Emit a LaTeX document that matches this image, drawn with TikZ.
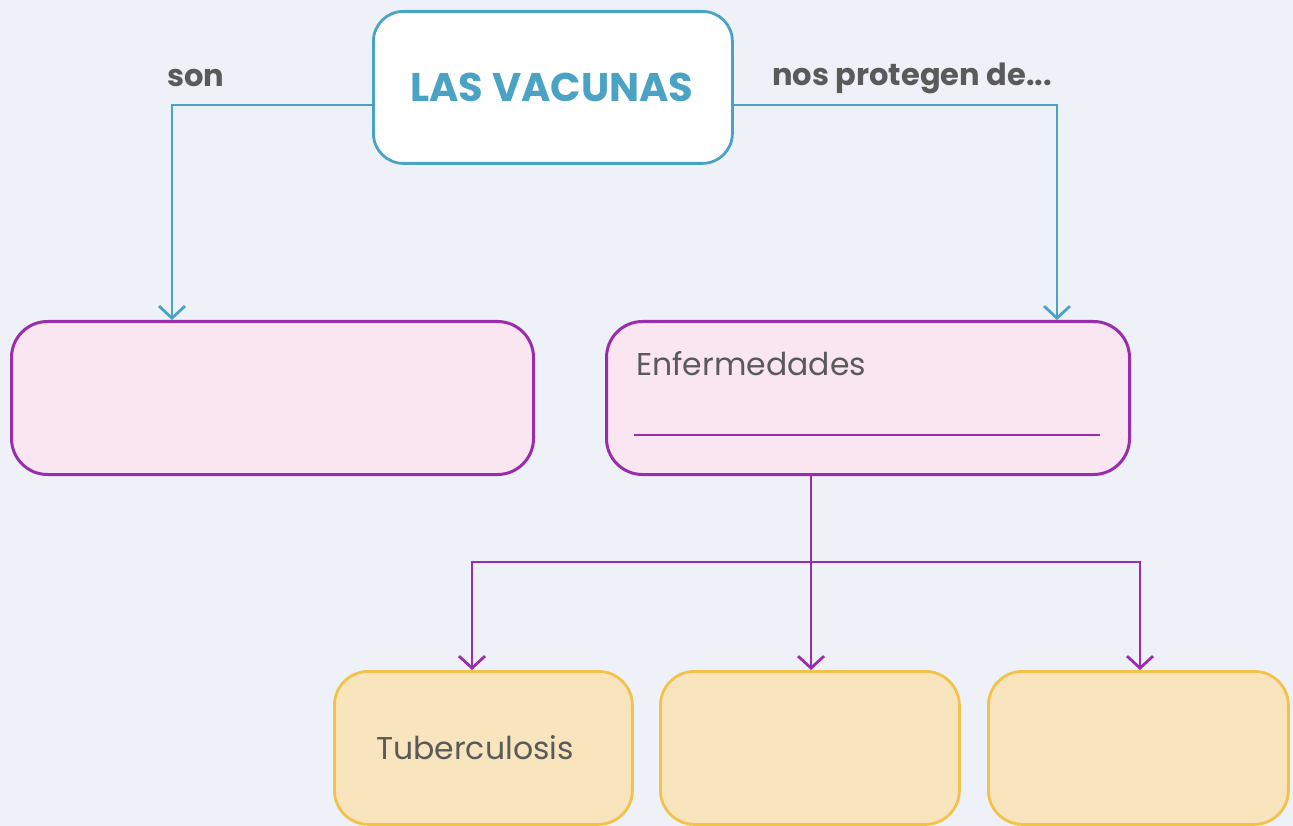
\documentclass[tikz,border=0pt]{standalone}
\usepackage{fontspec}
\setmainfont{Poppins}
\usetikzlibrary{arrows.meta}
\definecolor{bg}{HTML}{EEF2F8}
\definecolor{teal}{HTML}{4AA3C4}
\definecolor{purp}{HTML}{9A2DAD}
\definecolor{pinkf}{HTML}{F9E6F0}
\definecolor{yelb}{HTML}{F3C24A}
\definecolor{yelf}{HTML}{F9E5BD}
\definecolor{txt}{HTML}{5A5A5A}
\tikzset{
  topbox/.style={draw=teal, fill=white, line width=2.8pt, rounded corners=30pt},
  pinkbox/.style={draw=purp, fill=pinkf, line width=3pt, rounded corners=36pt},
  yelbox/.style={draw=yelb, fill=yelf, line width=2.8pt, rounded corners=34pt},
  tconn/.style={draw=teal, line width=2.8pt, -{Straight Barb[length=12pt,width=26pt,line width=2.8pt]}},
  pconn/.style={draw=purp, line width=2.8pt, -{Straight Barb[length=12pt,width=26pt,line width=2.8pt]}},
  lbl/.style={text=txt, font=\fontsize{30.5}{36}\selectfont\bfseries, inner sep=0pt},
  ntext/.style={text=txt, font=\fontsize{31.5}{38}\selectfont, inner sep=0pt}
}
\begin{document}
\begin{tikzpicture}[x=1pt,y=-1pt]
\useasboundingbox (0,0) rectangle (1293,826);
\fill[bg] (0,0) rectangle (1293,826);
% top box
\node[topbox, minimum width=359pt, minimum height=152pt, anchor=north west] (top) at (372,10) {};
\node[text=teal, font=\fontsize{40}{48}\selectfont\bfseries, inner sep=0pt] (title) at (552,87) {LAS VACUNAS};
% pink boxes
\node[pinkbox, minimum width=522pt, minimum height=153pt, anchor=north west] (left) at (10,320) {};
\node[pinkbox, minimum width=523pt, minimum height=153pt, anchor=north west] (right) at (605,320) {};
\node[ntext, anchor=west] (enf) at (636,364) {Enfermedades};
\coordinate (ul1) at (634,435);
\coordinate (ul2) at (1100,435);
\draw[purp, line width=2.8pt] (ul1) -- (ul2);
% yellow boxes
\node[yelbox, minimum width=298pt, minimum height=153pt, anchor=north west] (y1) at (333,670) {};
\node[yelbox, minimum width=299pt, minimum height=153pt, anchor=north west] (y2) at (659,670) {};
\node[yelbox, minimum width=300pt, minimum height=153pt, anchor=north west] (y3) at (987,670) {};
\node[ntext, anchor=west] (tub) at (376,748) {Tuberculosis};
% labels
\node[lbl] (son) at (196,78) {son};
\node[lbl] (nos) at (912,78) {nos protegen de...};
% teal connectors
\draw[tconn] (top.west |- 0,105) -| (left.north -| 172,0);
\draw[tconn] (top.east |- 0,105) -| (right.north -| 1057,0);
% purple connectors
\coordinate (split) at (811,562);
\draw[purp, line width=2.8pt] (right.south -| split) -- (split);
\draw[pconn] (split) -| (y1.north -| 472,0);
\draw[pconn] (split) -- (y2.north -| split);
\draw[pconn] (split) -| (y3.north -| 1140,0);
\end{tikzpicture}
\end{document}
